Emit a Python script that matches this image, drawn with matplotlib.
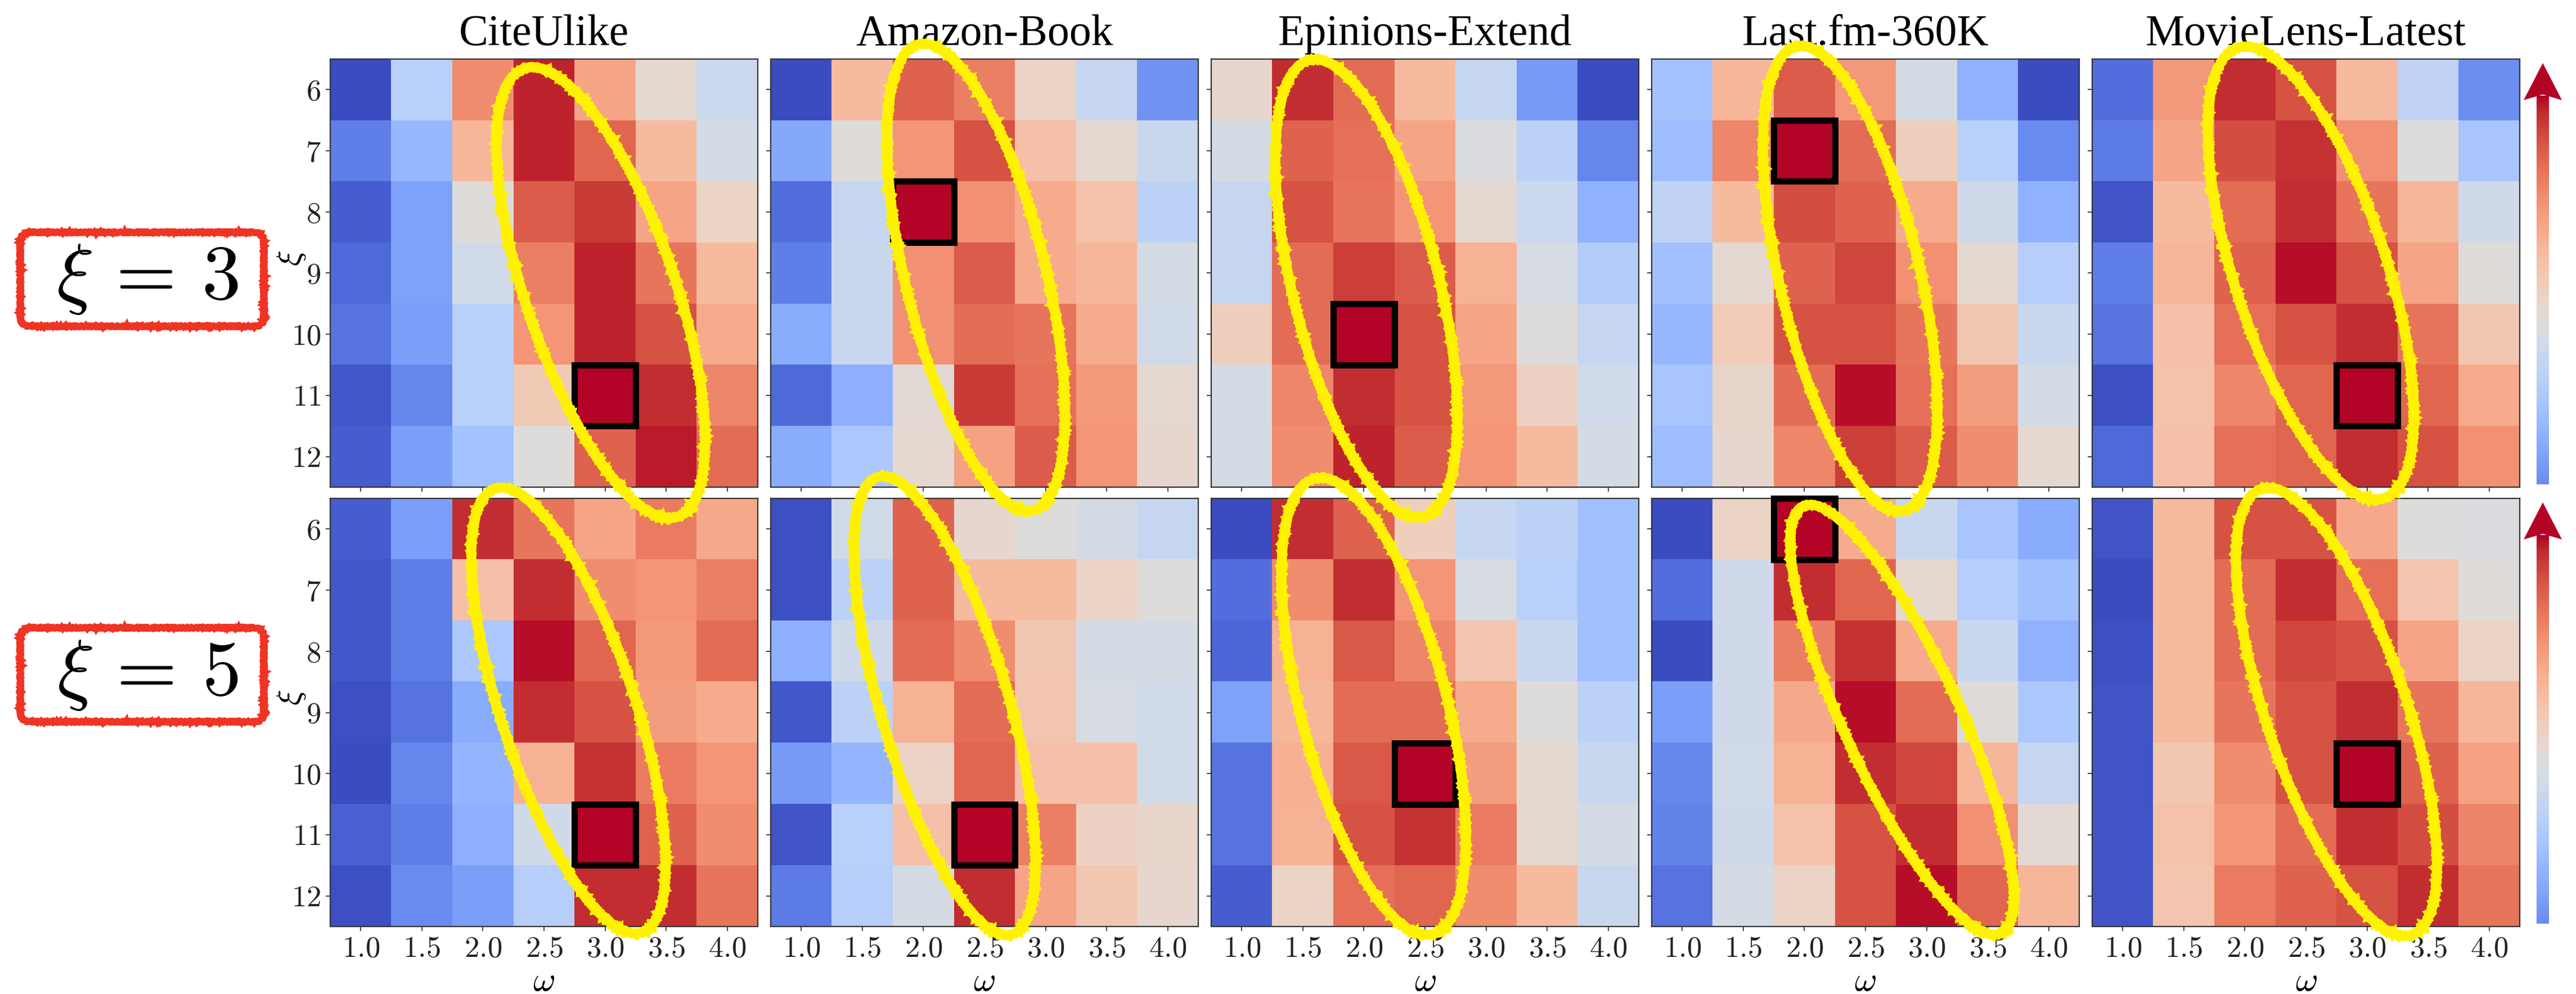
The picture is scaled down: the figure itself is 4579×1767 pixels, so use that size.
import numpy as np
import matplotlib
matplotlib.use('Agg')
import matplotlib.pyplot as plt
from matplotlib.patches import Ellipse, Rectangle, FancyBboxPatch, Polygon

DATASETS = ['CiteUlike', 'Amazon-Book', 'Epinions-Extend', 'Last.fm-360K', 'MovieLens-Latest']
OMEGA = [1.0, 1.5, 2.0, 2.5, 3.0, 3.5, 4.0]
XI_ROWS = [6, 7, 8, 9, 10, 11, 12]
ROW_LABELS = [r'$\xi\,=\,3$', r'$\xi\,=\,5$']

# normalised score per cell (rows: 6..12 top to bottom, cols: omega 1.0..4.0)
CITEULIKE_XI3 = [
    [0.00, 0.38, 0.78, 0.97, 0.72, 0.53, 0.44],
    [0.12, 0.28, 0.67, 0.97, 0.86, 0.66, 0.47],
    [0.04, 0.21, 0.51, 0.88, 0.94, 0.72, 0.56],
    [0.07, 0.21, 0.46, 0.81, 0.97, 0.83, 0.66],
    [0.09, 0.20, 0.38, 0.76, 0.97, 0.90, 0.70],
    [0.03, 0.14, 0.38, 0.60, 1.00, 0.96, 0.79],
    [0.04, 0.20, 0.32, 0.50, 0.87, 0.98, 0.85],
]
AMAZON_XI3 = [
    [0.00, 0.66, 0.87, 0.81, 0.56, 0.42, 0.17],
    [0.23, 0.51, 0.76, 0.90, 0.64, 0.53, 0.43],
    [0.08, 0.42, 1.00, 0.77, 0.70, 0.63, 0.39],
    [0.12, 0.43, 0.77, 0.88, 0.70, 0.67, 0.47],
    [0.24, 0.43, 0.77, 0.85, 0.83, 0.70, 0.46],
    [0.07, 0.25, 0.52, 0.94, 0.84, 0.75, 0.53],
    [0.24, 0.34, 0.53, 0.73, 0.88, 0.76, 0.54],
]
EPINIONS_XI3 = [
    [0.54, 0.96, 0.85, 0.66, 0.42, 0.19, 0.00],
    [0.47, 0.87, 0.84, 0.72, 0.49, 0.39, 0.14],
    [0.42, 0.90, 0.83, 0.76, 0.53, 0.44, 0.26],
    [0.42, 0.85, 0.93, 0.88, 0.68, 0.48, 0.36],
    [0.58, 0.85, 1.00, 0.90, 0.72, 0.50, 0.42],
    [0.47, 0.79, 0.96, 0.90, 0.75, 0.57, 0.46],
    [0.47, 0.78, 0.97, 0.88, 0.76, 0.66, 0.47],
]
LASTFM_XI3 = [
    [0.32, 0.67, 0.88, 0.75, 0.47, 0.26, 0.00],
    [0.30, 0.79, 1.00, 0.85, 0.58, 0.38, 0.15],
    [0.40, 0.66, 0.91, 0.87, 0.70, 0.45, 0.26],
    [0.31, 0.53, 0.87, 0.92, 0.77, 0.53, 0.37],
    [0.28, 0.59, 0.90, 0.90, 0.83, 0.61, 0.43],
    [0.33, 0.55, 0.85, 0.99, 0.84, 0.74, 0.47],
    [0.30, 0.54, 0.79, 0.93, 0.88, 0.78, 0.53],
]
MOVIELENS_XI3 = [
    [0.08, 0.75, 0.96, 0.90, 0.66, 0.40, 0.16],
    [0.11, 0.72, 0.91, 0.95, 0.77, 0.50, 0.33],
    [0.02, 0.66, 0.85, 0.96, 0.83, 0.67, 0.45],
    [0.12, 0.67, 0.87, 0.99, 0.90, 0.72, 0.51],
    [0.09, 0.64, 0.84, 0.90, 0.96, 0.83, 0.61],
    [0.01, 0.63, 0.79, 0.86, 1.00, 0.86, 0.70],
    [0.07, 0.64, 0.84, 0.86, 0.96, 0.90, 0.77],
]
CITEULIKE_XI5 = [
    [0.04, 0.20, 0.96, 0.83, 0.72, 0.82, 0.71],
    [0.03, 0.12, 0.64, 0.96, 0.78, 0.76, 0.81],
    [0.03, 0.12, 0.34, 0.99, 0.86, 0.75, 0.85],
    [0.01, 0.09, 0.24, 0.96, 0.90, 0.74, 0.70],
    [0.00, 0.14, 0.27, 0.68, 0.95, 0.82, 0.76],
    [0.05, 0.12, 0.25, 0.45, 1.00, 0.87, 0.78],
    [0.01, 0.15, 0.20, 0.37, 0.96, 0.96, 0.83],
]
AMAZON_XI5 = [
    [0.01, 0.46, 0.87, 0.54, 0.50, 0.47, 0.42],
    [0.01, 0.39, 0.87, 0.66, 0.66, 0.56, 0.50],
    [0.25, 0.45, 0.85, 0.78, 0.61, 0.47, 0.47],
    [0.03, 0.39, 0.68, 0.85, 0.62, 0.48, 0.46],
    [0.19, 0.27, 0.56, 0.86, 0.64, 0.64, 0.46],
    [0.02, 0.38, 0.64, 1.00, 0.81, 0.57, 0.55],
    [0.11, 0.37, 0.47, 0.96, 0.72, 0.61, 0.54],
]
EPINIONS_XI5 = [
    [0.00, 0.96, 0.87, 0.58, 0.42, 0.39, 0.31],
    [0.08, 0.78, 0.96, 0.76, 0.48, 0.38, 0.31],
    [0.06, 0.68, 0.89, 0.79, 0.62, 0.43, 0.31],
    [0.21, 0.67, 0.85, 0.85, 0.70, 0.50, 0.39],
    [0.09, 0.69, 0.89, 1.00, 0.74, 0.53, 0.43],
    [0.09, 0.68, 0.90, 0.95, 0.82, 0.53, 0.47],
    [0.04, 0.56, 0.84, 0.86, 0.78, 0.66, 0.43],
]
LASTFM_XI5 = [
    [0.00, 0.56, 1.00, 0.70, 0.43, 0.33, 0.24],
    [0.08, 0.45, 0.96, 0.86, 0.53, 0.37, 0.31],
    [0.00, 0.45, 0.81, 0.95, 0.70, 0.43, 0.26],
    [0.20, 0.45, 0.71, 0.99, 0.85, 0.51, 0.34],
    [0.14, 0.46, 0.68, 0.96, 0.92, 0.67, 0.42],
    [0.13, 0.45, 0.63, 0.90, 0.96, 0.77, 0.52],
    [0.09, 0.47, 0.56, 0.90, 0.99, 0.86, 0.67],
]
MOVIELENS_XI5 = [
    [0.02, 0.66, 0.90, 0.90, 0.71, 0.50, 0.49],
    [0.00, 0.66, 0.85, 0.96, 0.84, 0.62, 0.51],
    [0.01, 0.66, 0.85, 0.92, 0.90, 0.72, 0.56],
    [0.02, 0.66, 0.83, 0.90, 0.96, 0.83, 0.67],
    [0.02, 0.61, 0.78, 0.90, 1.00, 0.87, 0.73],
    [0.02, 0.63, 0.76, 0.85, 0.96, 0.91, 0.80],
    [0.02, 0.62, 0.82, 0.87, 0.90, 0.96, 0.83],
]

GRIDS = [
    [CITEULIKE_XI3, AMAZON_XI3, EPINIONS_XI3, LASTFM_XI3, MOVIELENS_XI3],
    [CITEULIKE_XI5, AMAZON_XI5, EPINIONS_XI5, LASTFM_XI5, MOVIELENS_XI5],
]

# hand-drawn highlight ellipses, in cell units: (col, row, major, minor, angle)
ELLIPSES = [
    [(3.93, 3.32, 7.75, 2.45, 71.1), (2.86, 3.07, 7.85, 2.3, 76.2), (2.04, 3.25, 7.7, 2.4, 76.0),
     (2.75, 3.09, 7.8, 2.3, 76.9), (3.08, 3.00, 7.75, 2.5, 72.0)],
    [(3.40, 2.97, 7.65, 2.2, 71.7), (2.35, 2.89, 7.8, 2.1, 73.7), (2.16, 2.90, 7.7, 2.4, 75.5),
     (3.60, 3.12, 7.7, 1.9, 65.2), (3.50, 2.99, 7.7, 2.3, 71.3)],
]

plt.rcParams['font.family'] = ['Liberation Serif', 'DejaVu Serif']
plt.rcParams['mathtext.fontset'] = 'cm'

W, H = 4579, 1767
fig = plt.figure(figsize=(W / 100, H / 100), dpi=100)

PANEL_LEFT = [587, 1370, 2153, 2936, 3719]
PANEL_W, PANEL_H = 760, 761
ROW_TOP = [105, 886]
YELLOW = '#fff200'

axes = [[None] * 5 for _ in range(2)]
for r in range(2):
    for c in range(5):
        left, top = PANEL_LEFT[c], ROW_TOP[r]
        ax = fig.add_axes([left / W, 1 - (top + PANEL_H) / H, PANEL_W / W, PANEL_H / H])
        axes[r][c] = ax
        grid = np.array(GRIDS[r][c])
        ax.imshow(grid, cmap='coolwarm', vmin=0, vmax=1, aspect='auto', interpolation='nearest')

        ax.set_xticks(range(len(OMEGA)))
        ax.set_yticks(range(len(XI_ROWS)))
        if r == 1:
            ax.set_xticklabels([f'${w:.1f}$' for w in OMEGA])
            ax.set_xlabel(r'$\omega$', fontsize=44)
            ax.xaxis.label.set_va('center')
            ax.xaxis.set_label_coords(0.5, -0.131)
        else:
            ax.set_xticklabels([])
            ax.set_title(DATASETS[c], fontsize=56, pad=18)
        if c == 0:
            ax.set_yticklabels([f'${v}$' for v in XI_ROWS])
            ax.set_ylabel(r'$\xi$', fontsize=42)
            ax.yaxis.label.set_va('center')
            ax.yaxis.set_label_coords(-0.091, 0.535)
        else:
            ax.set_yticklabels([])
        ax.tick_params(length=6, width=1.2, labelsize=38, pad=6, colors='#222222')
        for sp in ax.spines.values():
            sp.set_linewidth(1.6)
            sp.set_color('#333333')

        # best cell
        bi, bj = np.unravel_index(np.argmax(grid), grid.shape)
        ax.add_patch(Rectangle((bj - 0.5, bi - 0.5), 1, 1, fill=False, edgecolor='black',
                               linewidth=8, zorder=5, clip_on=False))

        # yellow marker ellipse, drawn above every panel
        cx, cy, major, minor, ang = ELLIPSES[r][c]
        for k, (lw, dx, dy) in enumerate([(11, 0.0, 0.0), (4, 0.04, -0.03), (4, -0.04, 0.03)]):
            e = Ellipse((cx + dx, cy + dy), major, minor, angle=ang, transform=ax.transData,
                        fill=False, edgecolor=YELLOW, linewidth=lw, zorder=10 + k, clip_on=False)
            e.set_sketch_params(scale=1.5, length=6, randomness=2)
            fig.add_artist(e)

# row labels in red rough boxes
for r, label in enumerate(ROW_LABELS):
    box_top = [413, 1116][r]
    for k, (lw, off) in enumerate([(8, 0.0), (3, 0.03)]):
        box = FancyBboxPatch((0.36 + off, (H - box_top - 167) / 100 - off), 4.33, 1.67,
                             boxstyle='round,pad=0,rounding_size=0.18',
                             transform=fig.dpi_scale_trans, fill=False,
                             edgecolor='#ef3423', linewidth=lw, zorder=3)
        box.set_sketch_params(scale=1.5, length=8, randomness=3)
        fig.add_artist(box)
    fig.text(262 / W, 1 - (box_top + 84) / H, label, fontsize=100, ha='center', va='center')

# gradient arrows to the right of each row
grad = np.linspace(0.15, 1.0, 256)[:, None]
xc = 45.20
for r in range(2):
    top_in = (H - ROW_TOP[r] - 7) / 100
    bot_in = (H - ROW_TOP[r] - PANEL_H + 5) / 100
    base_in = top_in - 0.66
    sax = fig.add_axes([(xc * 100 - 11) / W, bot_in * 100 / H, 22 / W, (base_in + 0.08 - bot_in) * 100 / H])
    sax.imshow(grad, cmap='coolwarm', vmin=0, vmax=1, aspect='auto', origin='lower')
    sax.set_axis_off()
    head = Polygon([(xc, top_in), (xc + 0.34, base_in), (xc, base_in + 0.1), (xc - 0.34, base_in)],
                   closed=True, transform=fig.dpi_scale_trans, facecolor='#b40426',
                   edgecolor='none', zorder=6)
    fig.add_artist(head)

fig.savefig('out.png', dpi=100)
